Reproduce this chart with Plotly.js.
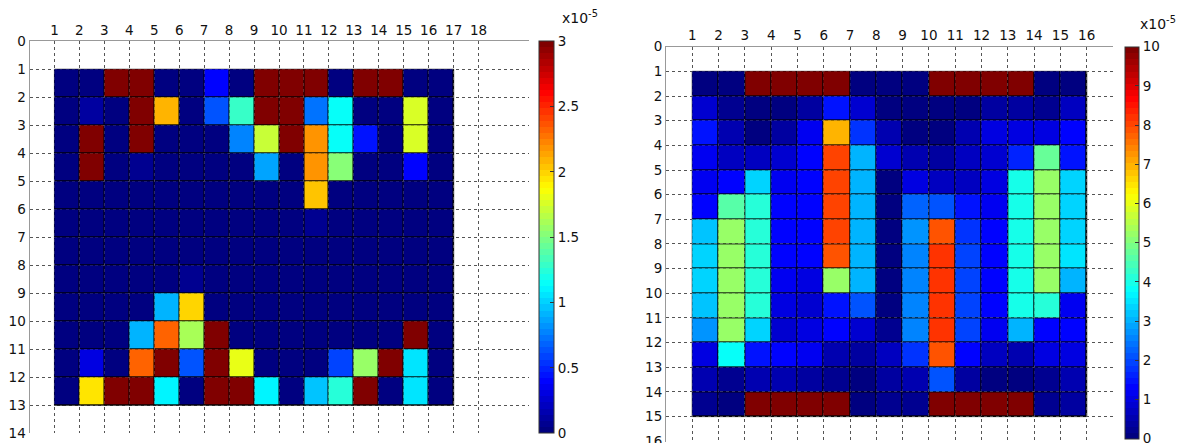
<!DOCTYPE html>
<html>
<head>
<meta charset="utf-8">
<script src="https://cdn.plot.ly/plotly-3.0.1.min.js"></script>
<style>html,body{margin:0;padding:0;background:#fff;}#chart{width:1184px;height:443px;}</style>
</head>
<body>
<div id="chart"></div>
<script>
// ---------- DATA (values in units of 1e-5) ----------
// Left map: 12 rows (y 1..13) x 16 columns (x 1..17)
const leftZ = [
  [0,0,3,3,0,0,0.4,0,3,3,3,0,3,3,0,0],
  [0,0.1,0,3,2.1,0,0.64,1.31,3,3,0.72,1.15,0,0,1.75,0],
  [0,3,0,3,0,0,0,0.77,1.73,3,2.18,1.15,0.45,0,1.76,0],
  [0,3,0,0.05,0,0,0,0,0.86,0,2.2,1.5,0,0,0.4,0],
  [0,0,0,0,0,0,0,0,0,0,2.04,0,0,0,0,0],
  [0,0,0,0,0,0,0,0,0,0,0.05,0,0,0,0,0],
  [0,0,0,0,0,0,0,0,0,0,0,0,0,0,0,0],
  [0,0,0,0,0,0.08,0,0,0,0,0,0,0,0,0,0],
  [0,0,0,0,0.9,1.98,0,0,0,0,0,0,0,0,0,0],
  [0,0,0,0.9,2.3,1.6,3,0,0,0,0,0,0,0,3,0],
  [0,0.3,0,2.33,3,0.61,3,1.8,0,0,0,0.6,1.55,3,1.05,0],
  [0,1.94,3,3,1.12,0,3,3,1.08,0,0.97,1.25,3,0,1.05,0]
];
// Right map: 14 rows (y 1..15) x 15 columns (x 1..16)
const rightZ = [
  [0.1,0.1,10,10,10,10,0.1,0.1,0.1,10,10,10,10,0.1,0.1],
  [0.9,0.2,0.15,0.15,0.35,1.55,0.8,0.1,0.15,0.1,0.1,0.4,0.45,0.2,0.7],
  [1.45,0.55,0.1,0.4,1.15,7.0,1.75,0.5,0.1,0.1,0.5,0.95,1.0,1.05,1.25],
  [1.2,0.7,0.65,0.85,1.4,8.1,3.0,0.9,0.5,0.4,0.75,0.8,1.65,4.75,1.45],
  [1.2,1.25,3.4,1.2,1.4,8.1,3.0,0.1,1.0,0.7,0.75,1.0,3.95,5.3,3.3],
  [1.3,4.55,4.15,1.4,1.4,8.1,3.0,0.1,2.3,2.05,1.55,1.15,3.95,5.3,3.4],
  [3.2,5.3,4.2,1.4,1.4,8.1,3.0,0.1,2.7,7.9,1.75,1.35,3.95,5.3,3.4],
  [3.3,5.3,4.2,1.4,1.35,7.95,3.0,0.1,2.65,8.25,1.95,1.35,3.95,5.3,3.45],
  [3.3,5.3,4.2,1.15,1.05,5.3,3.0,0.1,2.65,8.25,1.9,1.35,3.95,5.3,3.0],
  [3.15,5.3,4.2,0.95,0.85,1.55,2.05,0.1,2.65,8.25,1.9,1.3,3.95,4.15,1.2],
  [2.8,5.3,3.4,0.85,1.0,1.35,0.9,0.2,2.65,8.25,1.9,1.1,3.1,1.3,1.3],
  [1.0,3.75,1.55,1.25,1.2,0.55,0.45,0.75,1.85,7.9,1.3,0.7,0.6,0.95,1.05],
  [0.55,0.25,0.6,0.55,0.4,0.3,0.15,0.4,0.6,2.05,0.4,0.15,0.1,0.25,0.5],
  [0.2,0.15,10,10,10,10,0.1,0.25,0.2,10,10,10,10,0.2,0.35]
];
const leftXTicks = [1,2,3,4,5,6,7,8,9,10,11,12,13,14,15,16,17,18];
const leftYTicks = [0,1,2,3,4,5,6,7,8,9,10,11,12,13,14];
const leftCbTicks = [0,0.5,1,1.5,2,2.5,3];
const rightXTicks = [1,2,3,4,5,6,7,8,9,10,11,12,13,14,15,16];
const rightYTicks = [0,1,2,3,4,5,6,7,8,9,10,11,12,13,14,15,16];
const rightCbTicks = [0,1,2,3,4,5,6,7,8,9,10];

// ---------- helpers ----------
function jetScale(n){
  const cl = v => Math.max(0, Math.min(1, v));
  const out = [];
  for (let i = 0; i < n; i++){
    const t = i/(n-1);
    const r = Math.round(255*cl(1.5-Math.abs(4*t-3)));
    const g = Math.round(255*cl(1.5-Math.abs(4*t-2)));
    const b = Math.round(255*cl(1.5-Math.abs(4*t-1)));
    const c = `rgb(${r},${g},${b})`;
    out.push([i/n, c]); out.push([(i+1)/n, c]);
  }
  return out;
}
const jet = jetScale(64);
const edges = (start, n) => Array.from({length: n+1}, (_, i) => start + i);

const W = 1184, H = 443;
const px = v => v / W, py = v => 1 - v / H;
const font = {family: 'DejaVu Sans, Liberation Sans, Arial, sans-serif', size: 13.5, color: '#111'};

const lCols = leftZ[0].length, lRows = leftZ.length;
const rCols = rightZ[0].length, rRows = rightZ.length;

const traces = [
  {
    type: 'heatmap', z: leftZ, x: edges(1, lCols), y: edges(1, lRows),
    xaxis: 'x', yaxis: 'y', colorscale: jet, zmin: 0, zmax: 3, xgap: 1, ygap: 1,
    hoverinfo: 'z',
    colorbar: {x: px(539), xanchor: 'left', y: py(41.3), yanchor: 'top',
      len: (433.3-41.3)/H, lenmode: 'fraction', thickness: 15, xpad: 0, ypad: 0,
      outlinecolor: '#333', outlinewidth: 1, tickvals: leftCbTicks,
      ticktext: leftCbTicks.map(String), ticks: 'inside', ticklen: 4, tickcolor: '#333',
      tickfont: font, ticklabeloverflow: 'allow'}
  },
  {
    type: 'heatmap', z: rightZ, x: edges(1, rCols), y: edges(1, rRows),
    xaxis: 'x2', yaxis: 'y2', colorscale: jet, zmin: 0, zmax: 10, xgap: 1, ygap: 1,
    hoverinfo: 'z',
    colorbar: {x: px(1125), xanchor: 'left', y: py(46.7), yanchor: 'top',
      len: (439-46.7)/H, lenmode: 'fraction', thickness: 14, xpad: 0, ypad: 0,
      outlinecolor: '#333', outlinewidth: 1, tickvals: rightCbTicks,
      ticktext: rightCbTicks.map(String), ticks: 'inside', ticklen: 4, tickcolor: '#333',
      tickfont: font, ticklabeloverflow: 'allow'}
  }
];

const axBase = {showline: true, linecolor: '#999', linewidth: 1, zeroline: false,
  showgrid: true, gridcolor: '#555', griddash: 'dot', gridwidth: 1,
  ticks: '', tickfont: font, fixedrange: true, ticklabeloverflow: 'allow'};

const layout = {
  width: W, height: H, margin: {l: 0, r: 0, t: 0, b: 0},
  paper_bgcolor: '#fff', plot_bgcolor: '#fff', font: font, showlegend: false,
  xaxis: Object.assign({}, axBase, {domain: [px(29.5), px(528.5)], range: [0, 20], side: 'top',
    anchor: 'y', tickvals: leftXTicks, ticktext: leftXTicks.map(String)}),
  yaxis: Object.assign({}, axBase, {domain: [py(433.3), py(41.3)], range: [14, 0],
    anchor: 'x', tickvals: leftYTicks, ticktext: leftYTicks.map(String)}),
  xaxis2: Object.assign({}, axBase, {domain: [px(666), px(1113)], range: [0, 17], side: 'top',
    anchor: 'y2', tickvals: rightXTicks, ticktext: rightXTicks.map(String)}),
  yaxis2: Object.assign({}, axBase, {domain: [py(442), py(46.7)], range: [16.03, 0],
    anchor: 'x2', tickvals: rightYTicks, ticktext: rightYTicks.map(String)}),
  shapes: [
    {type: 'rect', xref: 'x', yref: 'y', x0: 1, x1: 1 + lCols, y0: 1, y1: 1 + lRows,
      fillcolor: '#000', line: {color: '#000', width: 1}, layer: 'below'},
    {type: 'rect', xref: 'x2', yref: 'y2', x0: 1, x1: 1 + rCols, y0: 1, y1: 1 + rRows,
      fillcolor: '#000', line: {color: '#000', width: 1}, layer: 'below'}
  ],
  annotations: [
    {xref: 'paper', yref: 'paper', x: px(560), y: py(6), xanchor: 'left', yanchor: 'top',
      text: 'x10<sup>-5</sup>', showarrow: false, font: {family: font.family, size: 14, color: '#111'}},
    {xref: 'paper', yref: 'paper', x: px(1138), y: py(12), xanchor: 'left', yanchor: 'top',
      text: 'x10<sup>-5</sup>', showarrow: false, font: {family: font.family, size: 14, color: '#111'}}
  ]
};

Plotly.newPlot('chart', traces, layout, {displayModeBar: false, staticPlot: true});
</script>
</body>
</html>
